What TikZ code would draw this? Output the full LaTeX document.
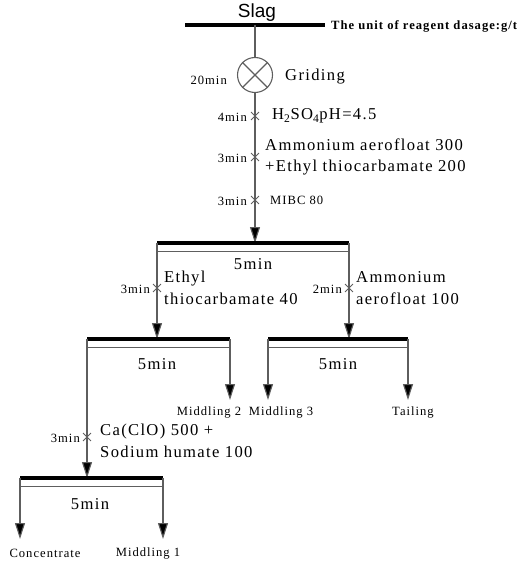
\documentclass[tikz,border=0pt]{standalone}
\usepackage{fontspec}
\setmainfont{Liberation Serif}
\newfontfamily\slagfont{Liberation Sans}
\newfontfamily\wideserif[LetterSpace=8]{Liberation Serif}
\usetikzlibrary{arrows.meta,shapes.misc}
\newcommand{\bigsz}{\wideserif\fontsize{16.6bp}{21.5bp}\selectfont}
\newcommand{\smallsz}{\wideserif\fontsize{12.6bp}{15bp}\selectfont}
\definecolor{flowgray}{HTML}{5E5E5E}

\begin{document}
\begin{tikzpicture}[
  x=1bp,
  y=-1bp,
  every node/.style={inner sep=0pt, black},
  bar/.style={black, line width=3.2bp},
  subbar/.style={flowgray, line width=1bp},
  flow/.style={flowgray, line width=1.1bp},
  feed/.style={flow, -{Triangle[length=16bp, width=10bp, fill=black]}},
  dose/.style={cross out, draw=flowgray, line width=0.9bp, minimum size=7bp},
  bigtxt/.style={font=\bigsz, align=left},
  smalltxt/.style={font=\smallsz},
  mill/.style={circle, draw=flowgray, line width=1.1bp, minimum size=35bp}
]
  \useasboundingbox (0,0) rectangle (530,562);

  % ---- feed ----
  \node[font=\slagfont\fontsize{19bp}{21bp}\selectfont] (slag) at (257,12.5) {Slag};
  \coordinate (slagL) at (185,25);
  \coordinate (slagR) at (325,25);
  \coordinate (slagO) at (255,25);
  \draw[bar] (slagL) -- (slagR);
  \node[anchor=west, font=\wideserif\bfseries\fontsize{12.6bp}{14bp}\selectfont] (unit)
    at (331,26) {The unit of reagent dasage:g/t};

  % ---- grinding ----
  \node[mill] (grind) at (255,75) {};
  \draw[flow] (grind.north west) -- (grind.south east);
  \draw[flow] (grind.north east) -- (grind.south west);
  \draw[flow] (slagO) -- (grind.north);
  \node[smalltxt, anchor=east] (t20) at (227,80) {20min};
  \node[bigtxt, anchor=west] (grindlab) at (285,77) {Griding};

  % ---- rougher cell ----
  \coordinate (r1L) at (157,243);
  \coordinate (r1R) at (349,243);
  \coordinate (r1F) at (255,243);
  \draw[feed] (grind.south) -- (r1F);
  \node[dose] (d1) at (255,116) {};
  \node[dose] (d2) at (255,157) {};
  \node[dose] (d3) at (255,200) {};
  \node[smalltxt, anchor=east] (t4) at (247,117) {4min};
  \node[bigtxt, anchor=west] (acid) at (272,116) {H\textsubscript{2}SO\textsubscript{4}pH=4.5};
  \node[smalltxt, anchor=east] (t3a) at (247,158) {3min};
  \node[bigtxt, anchor=west] (coll1) at (265,157)
    {Ammonium aerofloat 300\\+Ethyl thiocarbamate 200};
  \node[smalltxt, anchor=east] (t3b) at (247,201) {3min};
  \node[smalltxt, anchor=west] (frother) at (270,200) {MIBC 80};

  \draw[bar] (r1L) -- (r1R);
  \draw[subbar] ([yshift=-8bp]r1L) -- ([yshift=-8bp]r1R);
  \node[bigtxt] (r1t) at (253,264) {5min};

  % ---- cleaner and scavenger cells ----
  \coordinate (c2L) at (87,339);
  \coordinate (c2R) at (230,339);
  \coordinate (c2F) at (157,339);
  \coordinate (c3L) at (268,339);
  \coordinate (c3R) at (408,339);
  \coordinate (c3F) at (349,339);
  \draw[feed] (r1L) -- (c2F);
  \draw[feed] (r1R) -- (c3F);
  \node[dose] (d4) at (157,288) {};
  \node[dose] (d5) at (349,288) {};
  \node[smalltxt, anchor=east] (t3c) at (150,289) {3min};
  \node[bigtxt, anchor=west] (coll2) at (164,288) {Ethyl\\thiocarbamate 40};
  \node[smalltxt, anchor=east] (t2) at (342,289) {2min};
  \node[bigtxt, anchor=west] (coll3) at (356,288) {Ammonium\\aerofloat 100};

  \foreach \cl/\cr in {c2L/c2R, c3L/c3R} {
    \draw[bar] (\cl) -- (\cr);
    \draw[subbar] ([yshift=-8bp]\cl) -- ([yshift=-8bp]\cr);
  }
  \node[bigtxt] (c2t) at (157,364) {5min};
  \node[bigtxt] (c3t) at (338,364) {5min};

  % ---- products of cells 2 and 3 ----
  \node[smalltxt] (mid2) at (209,412) {Middling 2};
  \node[smalltxt] (mid3) at (281,412) {Middling 3};
  \node[smalltxt] (tail) at (413,412) {Tailing};
  \coordinate (mid2A) at (230,400);
  \coordinate (mid3A) at (268,400);
  \coordinate (tailA) at (408,400);
  \draw[feed] (c2R) -- (mid2A);
  \draw[feed] (c3L) -- (mid3A);
  \draw[feed] (c3R) -- (tailA);

  % ---- final cell ----
  \coordinate (c4L) at (20,478);
  \coordinate (c4R) at (163,478);
  \coordinate (c4F) at (87,478);
  \draw[feed] (c2L) -- (c4F);
  \node[dose] (d6) at (87,437) {};
  \node[smalltxt, anchor=east] (t3d) at (80,438) {3min};
  \node[bigtxt, anchor=west] (depr) at (100,441) {Ca(ClO) 500 +\\Sodium humate 100};
  \draw[bar] (c4L) -- (c4R);
  \draw[subbar] ([yshift=-8bp]c4L) -- ([yshift=-8bp]c4R);
  \node[bigtxt] (c4t) at (90,504) {5min};

  \node[smalltxt] (conc) at (45,553) {Concentrate};
  \node[smalltxt] (mid1) at (148,553) {Middling 1};
  \coordinate (concA) at (20,539);
  \coordinate (mid1A) at (163,539);
  \draw[feed] (c4L) -- (concA);
  \draw[feed] (c4R) -- (mid1A);
\end{tikzpicture}
\end{document}
